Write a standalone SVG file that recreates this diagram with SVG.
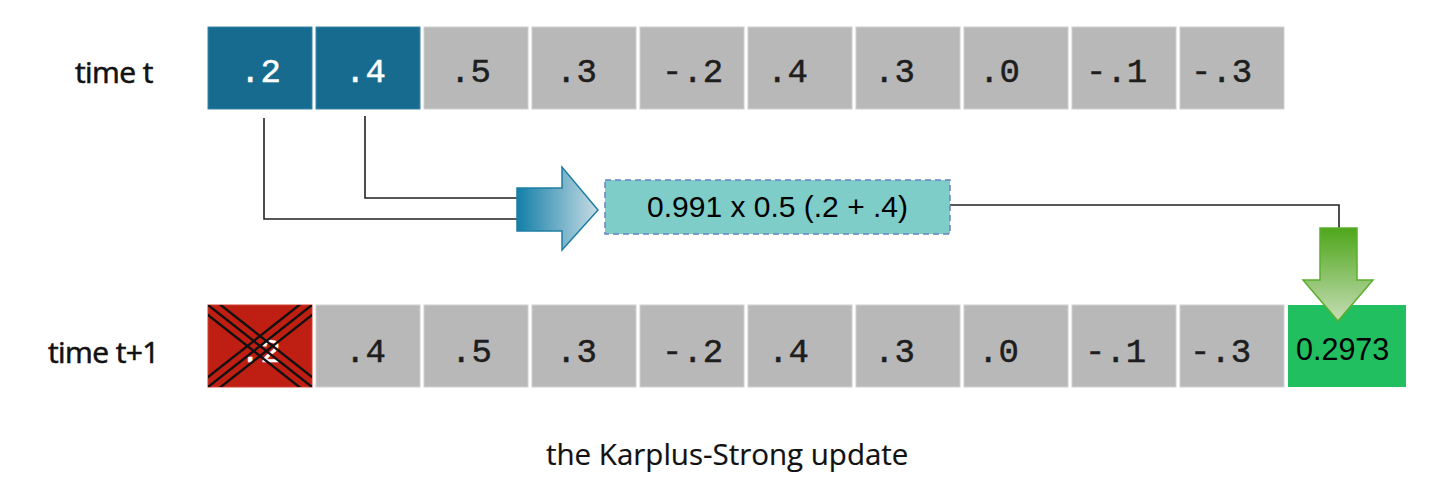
<svg xmlns="http://www.w3.org/2000/svg" width="1454" height="504" viewBox="0 0 1454 504">
<style>
.cell{fill:#b8b8b8;stroke:#d0d0d0;stroke-width:1}
.blue{fill:#176b8f;stroke:#3a86a8;stroke-width:1}
.mono{font-family:"Liberation Mono","Courier New",monospace;font-size:34px;fill:#1e1e1e;stroke:#1e1e1e;stroke-width:0.5}
.monoW{font-family:"Liberation Mono","Courier New",monospace;font-size:34px;fill:#ffffff;stroke:#ffffff;stroke-width:0.5}
.label{font-family:"Open Sans","Noto Sans",sans-serif;font-size:30px;font-weight:400;letter-spacing:-0.6px;fill:#111;stroke:#111;stroke-width:0.6}
.caption{font-family:"Open Sans","Noto Sans",sans-serif;font-size:29.5px;font-weight:400;fill:#111;stroke:#111;stroke-width:0.2}
.sans{font-family:"Liberation Sans",Arial,sans-serif;fill:#000}
.conn{fill:none;stroke:#222;stroke-width:1.6}
.cross{stroke:#111;stroke-width:2.4}
</style>
<defs>
<linearGradient id="gBlue" x1="517" y1="0" x2="599" y2="0" gradientUnits="userSpaceOnUse">
<stop offset="0" stop-color="#137fa8"/>
<stop offset="1" stop-color="#c9dde5"/>
</linearGradient>
<linearGradient id="gGreen" x1="0" y1="228" x2="0" y2="321" gradientUnits="userSpaceOnUse">
<stop offset="0" stop-color="#4ea61a"/>
<stop offset="1" stop-color="#c6ddb6"/>
</linearGradient>
<clipPath id="clipRed"><rect x="208" y="305" width="104" height="82"/></clipPath>
</defs>
<rect width="1454" height="504" fill="#ffffff"/>

<text class="label" x="75" y="83">time t</text>
<text class="label" x="48" y="363">time t+1</text>
<text class="caption" x="546" y="465">the Karplus-Strong update</text>

<g id="connectors">
<polyline class="conn" points="264,118 264,219 518,219"/>
<polyline class="conn" points="365,116 365,198 518,198"/>
<polyline class="conn" points="950,205 1339,205 1339,229"/>
</g>

<g id="top-row">
<g id="t0"><rect class="blue" x="208" y="27" width="104" height="82"/><text class="monoW" x="240" y="82">.2</text></g>
<g id="t1"><rect class="blue" x="316" y="27" width="104" height="82"/><text class="monoW" x="345" y="82">.4</text></g>
<g id="t2"><rect class="cell" x="424" y="27" width="104" height="82"/><text class="mono" x="450" y="82">.5</text></g>
<g id="t3"><rect class="cell" x="532" y="27" width="104" height="82"/><text class="mono" x="556" y="82">.3</text></g>
<g id="t4"><rect class="cell" x="640" y="27" width="104" height="82"/><text class="mono" x="662" y="82">-.2</text></g>
<g id="t5"><rect class="cell" x="748" y="27" width="104" height="82"/><text class="mono" x="767" y="82">.4</text></g>
<g id="t6"><rect class="cell" x="856" y="27" width="104" height="82"/><text class="mono" x="874" y="82">.3</text></g>
<g id="t7"><rect class="cell" x="964" y="27" width="104" height="82"/><text class="mono" x="979" y="82">.0</text></g>
<g id="t8"><rect class="cell" x="1072" y="27" width="104" height="82"/><text class="mono" x="1086" y="82">-.1</text></g>
<g id="t9"><rect class="cell" x="1180" y="27" width="104" height="82"/><text class="mono" x="1191" y="82">-.3</text></g>
</g>

<g id="bottom-row">
<g id="b0">
<rect x="208" y="305" width="104" height="82" fill="#bf1e12" stroke="#d04030" stroke-width="1"/>
<text class="monoW" x="240" y="362">.2</text>
<g clip-path="url(#clipRed)">
<line class="cross" x1="200" y1="288.7" x2="320" y2="383.3"/>
<line class="cross" x1="200" y1="298.7" x2="320" y2="393.3"/>
<line class="cross" x1="200" y1="308.7" x2="320" y2="403.3"/>
<line class="cross" x1="200" y1="403.3" x2="320" y2="308.7"/>
<line class="cross" x1="200" y1="393.3" x2="320" y2="298.7"/>
<line class="cross" x1="200" y1="383.3" x2="320" y2="288.7"/>
</g>
</g>
<g id="b1"><rect class="cell" x="316" y="305" width="104" height="82"/><text class="mono" x="345" y="362">.4</text></g>
<g id="b2"><rect class="cell" x="424" y="305" width="104" height="82"/><text class="mono" x="451" y="362">.5</text></g>
<g id="b3"><rect class="cell" x="532" y="305" width="104" height="82"/><text class="mono" x="556" y="362">.3</text></g>
<g id="b4"><rect class="cell" x="640" y="305" width="104" height="82"/><text class="mono" x="662" y="362">-.2</text></g>
<g id="b5"><rect class="cell" x="748" y="305" width="104" height="82"/><text class="mono" x="768" y="362">.4</text></g>
<g id="b6"><rect class="cell" x="856" y="305" width="104" height="82"/><text class="mono" x="874" y="362">.3</text></g>
<g id="b7"><rect class="cell" x="964" y="305" width="104" height="82"/><text class="mono" x="978" y="362">.0</text></g>
<g id="b8"><rect class="cell" x="1072" y="305" width="104" height="82"/><text class="mono" x="1085" y="362">-.1</text></g>
<g id="b9"><rect class="cell" x="1180" y="305" width="104" height="82"/><text class="mono" x="1190" y="362">-.3</text></g>
<g id="b10"><rect x="1288" y="305" width="118" height="82" fill="#21bf5f"/><text class="sans" x="1296" y="360" font-size="30.5">0.2973</text></g>
</g>

<g id="formula">
<rect x="605" y="180" width="345" height="54" fill="#7fcdc8" stroke="#6b80c4" stroke-width="1.5" stroke-dasharray="6,4"/>
<text class="sans" x="777.5" y="217" font-size="30" text-anchor="middle">0.991 x 0.5 (.2 + .4)</text>
</g>

<g id="blue-arrow">
<path d="M517,188 L562,188 L562,167 L598,210 L562,250 L562,231 L517,231 Z" fill="url(#gBlue)" stroke="#1f7ea3" stroke-width="1.5" stroke-linejoin="miter"/>
</g>

<g id="green-arrow">
<path d="M1320,228 L1357,228 L1357,280 L1373,280 L1338,321 L1303,280 L1320,280 Z" fill="url(#gGreen)" stroke="#5cae2e" stroke-width="1.5"/>
</g>
</svg>
